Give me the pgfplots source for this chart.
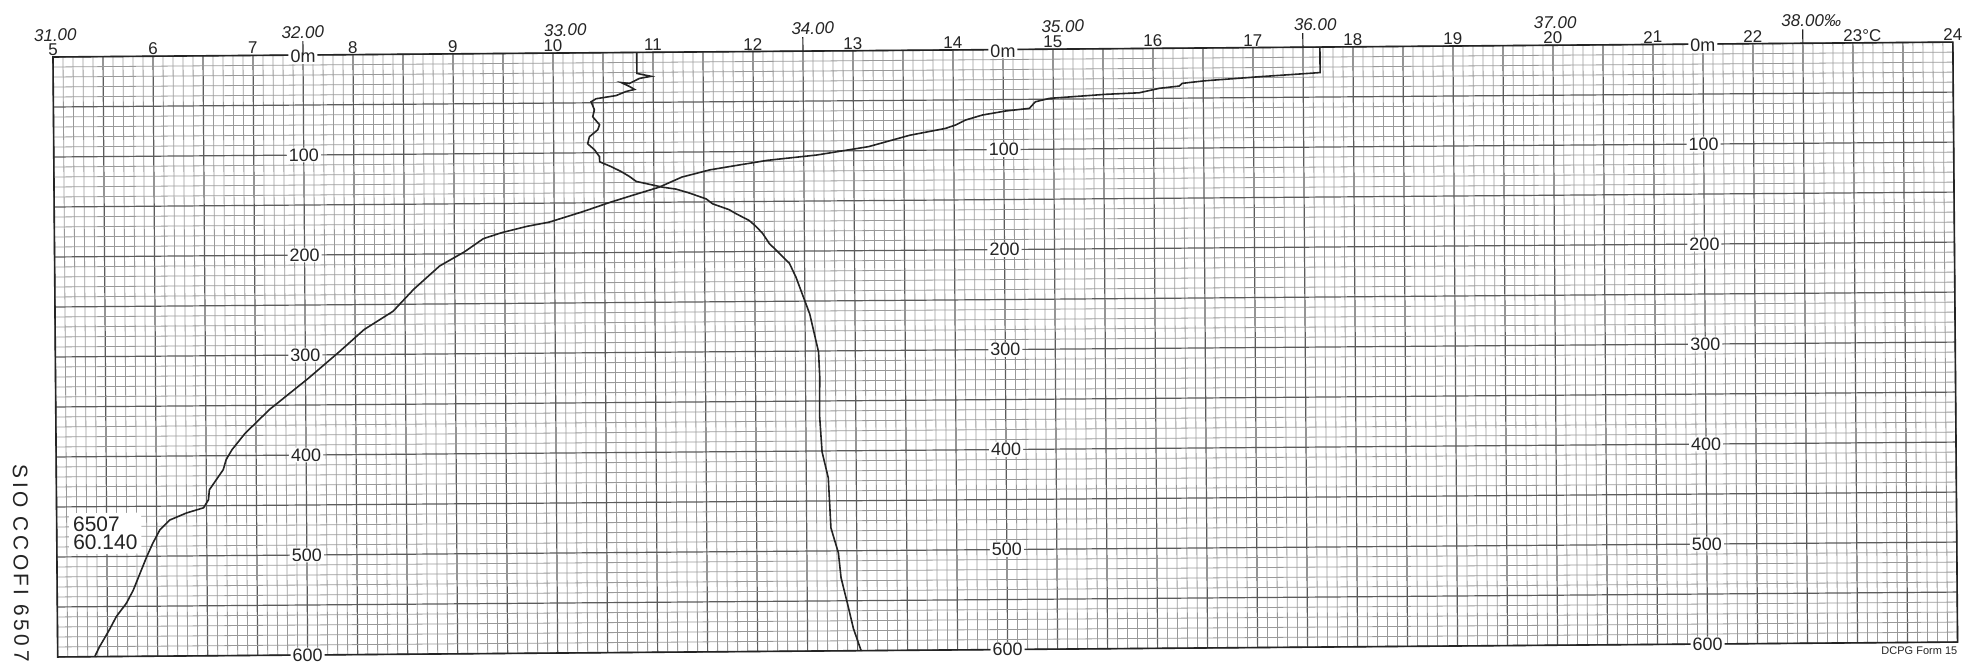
\documentclass[border=0pt]{standalone}
\usepackage{fontspec}
\setmainfont{Liberation Sans}
\newfontfamily\spaced{Liberation Sans}[LetterSpace=16]
\usepackage{pgfplots}
\pgfplotsset{compat=1.18}

\definecolor{gridminor}{gray}{0.60}
\definecolor{gridmajor}{gray}{0.36}
\definecolor{ink}{gray}{0.14}

\tikzset{
  tlabel/.style={font=\fontsize{8.5}{10}\selectfont, anchor=base, inner sep=0pt, text=ink},
  dlabel/.style={font=\fontsize{9}{10}\selectfont, anchor=center, fill=white, inner xsep=1pt, inner ysep=0.5pt, text=ink},
  slabel/.style={font=\fontsize{8.5}{10}\selectfont\itshape, anchor=base, inner sep=0pt, text=ink},
}

\begin{document}
\begin{tikzpicture}
% sheet: 1 m of depth = 0.5pt, 1 degC = 50pt
\useasboundingbox (-26.5pt,28.5pt) rectangle (958.5pt,-305pt);
\begin{scope}[transform canvas={rotate=0.45}]
% ---------------- temperature / depth grid ----------------
\begin{axis}[
  at={(0,0)}, anchor=north west,
  x=50pt, y=0.5pt, y dir=reverse,
  xmin=5, xmax=24, ymin=0, ymax=600,
  xtick={5,5.5,...,24}, ytick={0,50,...,600},
  minor x tick num=4, minor y tick num=4,
  grid=both,
  minor grid style={gridminor, line width=0.4pt},
  major grid style={gridmajor, line width=0.6pt},
  xticklabels={}, yticklabels={},
  tick style={draw=none},
  axis line style={ink, line width=0.8pt},
  clip=false,
]
% temperature profile (degC vs depth m)
\addplot[ink, line width=0.8pt] table[x=T, y=d] {
T d
17.67 0
17.67 25.5
17.56 26.2
17.06 29.2
16.52 32.8
16.29 35.2
16.26 37.9
16.06 40
15.86 44.3
15.52 45.6
14.96 49.2
14.82 52.5
14.76 59
14.52 61.5
14.29 65.3
14.12 70.2
14.02 75.1
13.92 78.4
13.56 85
13.15 96
12.63 104
12.13 109
11.56 118
11.28 125
11.05 135
10.78 143
10.55 150
10.28 159
9.95 169
9.73 173
9.48 179
9.29 185
9.10 198
8.85 212
8.59 235
8.38 257
8.09 275
7.84 297
7.52 324
7.14 354
6.89 378
6.76 394
6.70 404
6.67 414
6.60 424
6.53 434
6.52 444
6.47 452
6.30 457
6.13 464
6.03 474
5.96 487
5.90 500
5.83 517
5.76 534
5.69 547
5.59 560
5.52 573
5.42 590
5.37 600
};
% temperature scale along the top
\pgfplotsinvokeforeach{5,...,22}{\node[tlabel] at (axis cs:#1,-1.5) {#1};}
\node[tlabel] at (axis cs:23,-1.5) {23\rlap{°C}};
\node[tlabel] at (axis cs:24,-1.5) {24};
% depth scales
\pgfplotsinvokeforeach{7.5,14.5,21.5}{\node[dlabel] at (axis cs:#1,1.5) {0m};}
\pgfplotsinvokeforeach{100,200,...,600}{
  \node[dlabel] at (axis cs:7.5,#1) {#1};
  \node[dlabel] at (axis cs:14.5,#1) {#1};
  \node[dlabel] at (axis cs:21.5,#1) {#1};
}
% station identification
\node[anchor=north west, fill=white, align=left, inner sep=2pt,
      font=\fontsize{10.5}{9}\selectfont, text=ink] at (axis cs:5.12,456) {6507\\60.140};
\node[anchor=north east, inner sep=0pt, font=\fontsize{5.5}{6}\selectfont, text=ink]
      at (axis cs:24,604) {DCPG Form 15};
\node[rotate=-90, anchor=center, inner sep=0pt, text=ink,
      font=\spaced\fontsize{10.5}{11}\selectfont] at (axis cs:4.64,506) {SIO CCOFI 6507};
\end{axis}
% ---------------- salinity scale (per mille) ----------------
\begin{axis}[
  at={(0,0)}, anchor=north west,
  x=125pt, y=0.5pt, y dir=reverse,
  xmin=31, xmax=38.6, ymin=0, ymax=600,
  hide axis, clip=false,
]
\addplot[ink, line width=0.8pt] table[x=S, y=d] {
S d
33.335 0
33.335 21
33.392 24
33.345 26
33.305 31
33.272 30
33.305 34
33.325 37
33.291 39
33.251 43
33.171 46
33.151 49
33.164 57
33.157 64
33.184 72
33.177 77
33.143 84
33.136 91
33.163 97
33.183 104
33.183 109
33.229 114
33.269 119
33.302 124
33.329 129
33.382 132
33.435 135
33.488 137
33.541 141
33.608 147
33.634 152
33.700 158
33.727 162
33.780 169
33.807 175
33.833 182
33.859 192
33.899 202
33.939 212
33.965 226
34.019 263
34.053 301
34.057 326
34.055 364
34.064 401
34.088 427
34.097 477
34.126 502
34.136 527
34.160 552
34.184 578
34.214 600
};
\node[slabel] at (axis cs:31.01,-16) {31.00};
\node[slabel] at (axis cs:32,-17) {32.00};
\node[slabel] at (axis cs:33.05,-17) {33.00};
\node[slabel] at (axis cs:34.04,-17) {34.00};
\node[slabel] at (axis cs:35.04,-17) {35.00};
\node[slabel] at (axis cs:36.05,-17) {36.00};
\node[slabel] at (axis cs:37.01,-17) {37.00};
\node[slabel] at (axis cs:38,-17) {38.00\rlap{‰}};
\pgfplotsinvokeforeach{32,34,36,38}{\draw[ink, line width=0.6pt] (axis cs:#1,0) -- (axis cs:#1,-14);}
\end{axis}
\end{scope}
\end{tikzpicture}
\end{document}
